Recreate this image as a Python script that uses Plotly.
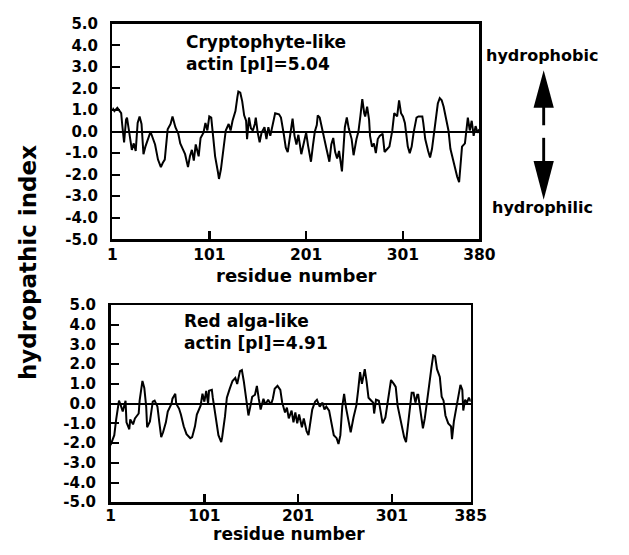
import plotly.graph_objects as go

# ---------------- data ----------------
crypto_res = [1, 3, 6, 10, 11, 13, 15, 16, 18, 21, 23, 25, 27, 29, 31, 33, 35, 37, 40, 41, 45, 48, 51, 53, 55,
              58, 61, 63, 66, 69, 71, 74, 76, 79, 81, 83, 85, 87, 90, 92, 95, 97, 99, 101, 103, 105, 107, 110,
              111, 113, 115, 118, 121, 123, 125, 128, 130, 131, 133, 135, 137, 139, 140, 142, 144, 146, 148,
              149, 151, 153, 155, 158, 160, 162, 164, 167, 169, 173, 175, 178, 180, 182, 184, 187, 189, 191,
              193, 196, 199, 201, 203, 206, 208, 210, 212, 213, 215, 217, 219, 222, 225, 227, 229, 231, 233,
              235, 238, 239, 241, 243, 245, 248, 250, 253, 255, 257, 259, 261, 262, 264, 266, 267, 269, 271,
              273, 275, 277, 280, 282, 285, 287, 290, 292, 295, 297, 299, 301, 303, 306, 308, 310, 312, 315,
              317, 321, 322, 324, 327, 329, 331, 334, 337, 339, 341, 343, 346, 348, 350, 352, 355, 357, 359,
              361, 362, 365, 367, 368, 370, 372, 374, 376, 378, 380]
crypto_val = [1.1, 0.95, 1.1, 0.85, 0.35, -0.5, 0.55, 0.65, 0.05, -0.85, -0.55, -0.9, 0.4, 0.7, 0.35, -1.05,
              -0.7, -0.4, -0.05, -0.1, -0.6, -1.3, -1.65, -1.45, -1.3, 0.1, 0.35, 0.7, 0.2, -0.1, -0.55, -0.85,
              -1.05, -1.65, -1.15, -0.85, -1.35, -0.6, -1.15, -0.3, -0.05, 0.4, 0.05, 0.7, 0.65, -0.25, -1.15,
              -1.9, -2.2, -1.75, -1.0, 0.05, 0.35, 0.05, 0.5, 0.95, 1.6, 1.85, 1.8, 1.4, 0.75, 0.5, -0.35, 0.65,
              0.15, 0.05, 0.35, 0.65, -0.05, -0.5, -0.05, 0.2, -0.35, 0.2, -0.2, 0.5, 0.85, 0.8, 0.65, -0.15,
              -0.75, -0.95, -0.35, 0.6, -0.2, -0.6, -0.15, -1.05, -0.45, -0.05, -0.65, -1.4, -0.65, 0.0, 0.3,
              0.75, 0.65, 0.2, -0.2, -0.8, -1.4, -0.6, -0.3, -0.95, -1.25, -0.9, -1.85, -0.95, 0.2, 0.65, 0.15,
              -0.35, -1.1, -0.35, 0.0, 0.7, 1.5, 0.85, 0.7, 1.15, 0.55, -0.2, -0.7, -0.55, -1.0, -0.35, -0.2,
              -0.1, -0.95, -0.8, -0.7, 0.05, 0.85, 0.7, 1.45, 0.85, 0.7, 0.4, -0.7, -1.0, -0.7, -0.05, 0.65,
              0.7, 0.7, 0.4, -0.35, -0.9, -1.2, -0.8, 0.4, 1.3, 1.55, 1.45, 1.15, 0.55, 0.05, -0.8, -1.2,
              -1.65, -2.1, -2.35, -1.05, -0.7, -0.55, 0.25, 0.65, 0.05, 0.5, -0.2, 0.25, -0.05, 0.1]

red_res = [1, 5, 7, 10, 12, 14, 17, 18, 21, 22, 25, 27, 31, 32, 35, 37, 39, 40, 43, 46, 48, 51, 53, 55, 57,
           60, 62, 66, 67, 70, 71, 74, 76, 79, 82, 86, 88, 91, 93, 97, 99, 101, 103, 105, 106, 109, 110, 114,
           116, 119, 120, 123, 125, 128, 131, 134, 136, 139, 141, 143, 146, 148, 150, 152, 155, 157, 159,
           161, 164, 166, 169, 172, 174, 176, 179, 182, 184, 187, 189, 191, 194, 196, 198, 200, 202, 205,
           207, 210, 212, 214, 216, 219, 221, 224, 227, 229, 231, 234, 237, 239, 242, 244, 246, 248, 250,
           252, 255, 257, 260, 263, 265, 267, 269, 272, 274, 276, 279, 281, 282, 284, 287, 289, 291, 294,
           296, 298, 300, 303, 305, 307, 310, 312, 314, 316, 317, 319, 322, 324, 326, 328, 329, 331, 334,
           336, 338, 340, 343, 345, 347, 349, 352, 354, 356, 358, 361, 364, 365, 367, 370, 372, 374, 376,
           377, 379, 381, 383, 385]
red_val = [-2.1, -1.6, -0.8, 0.15, -0.1, -0.4, 0.15, -0.95, -1.3, -0.8, -1.05, -0.75, -0.5, 0.15, 1.15, 0.8,
           -0.15, -1.2, -0.9, 0.1, 0.15, -0.15, -0.95, -1.7, -1.45, -0.95, -0.4, 0.0, 0.25, 0.5, 0.0, -0.25,
           -0.55, -1.15, -1.55, -1.75, -1.7, -1.15, -0.55, -0.1, 0.5, 0.1, 0.65, 0.0, 0.65, 0.7, 0.3, -0.95,
           -1.6, -1.95, -1.7, -0.65, 0.3, 0.75, 1.15, 1.3, 1.0, 1.65, 1.7, 1.15, 0.2, -0.6, -0.15, 0.35,
           0.45, 0.9, 0.25, -0.3, 0.25, -0.05, 0.2, -0.05, 0.25, 0.75, 0.9, 0.7, 0.05, -0.45, -0.2, -0.75,
           -0.35, -0.95, -0.45, -1.0, -0.55, -1.2, -0.75, -1.4, -1.6, -0.85, -0.3, 0.1, 0.2, -0.15, 0.05,
           -0.3, -0.15, -0.35, -1.0, -1.6, -1.75, -2.05, -1.6, -0.15, 0.5, -0.2, -0.95, -1.45, -0.7, -0.1,
           0.7, 1.6, 1.0, 1.75, 1.1, 0.3, 0.15, 0.05, -0.5, 0.2, 0.15, -0.5, -1.0, -0.7, -0.1, 0.7, 1.2,
           1.0, 0.85, -0.1, -0.75, -1.1, -1.7, -1.95, -1.55, -0.75, 0.55, 0.55, 0.05, 0.45, 0.45, -0.25,
           -1.25, -0.75, -0.1, 0.7, 1.8, 2.45, 2.4, 1.75, 1.35, 0.35, 0.15, -0.6, -1.0, -1.15, -1.8, -0.9,
           -0.1, 0.55, 0.95, 0.7, -0.35, 0.2, 0.05, 0.3, 0.1]

y_ticks = [5, 4, 3, 2, 1, 0, -1, -2, -3, -4, -5]
y_ticktext = ["5.0", "4.0", "3.0", "2.0", "1.0", "0.0", "-1.0", "-2.0", "-3.0", "-4.0", "-5.0"]
top_xticks = [1, 101, 201, 301, 380]
bot_xticks = [1, 101, 201, 301, 385]

# ---------------- layout helpers ----------------
# the page keeps an 8px body margin, so the figure is sized to fit inside the window
OFF = 8
W, H = 629 - 2 * OFF, 555 - 2 * OFF
def px(x):
    return (x - OFF) / W
def py(y):
    return 1 - (y - OFF) / H

FONT = "DejaVu Sans"
def f(size):
    return dict(family=FONT, size=size, color="black", weight="bold")

fig = go.Figure()
fig.add_trace(go.Scatter(x=crypto_res, y=crypto_val, mode="lines",
                         line=dict(color="black", width=2), xaxis="x", yaxis="y",
                         showlegend=False, hoverinfo="skip"))
fig.add_trace(go.Scatter(x=red_res, y=red_val, mode="lines",
                         line=dict(color="black", width=2), xaxis="x2", yaxis="y2",
                         showlegend=False, hoverinfo="skip"))

def xax(domain, rng, ticks, standoff):
    return dict(domain=domain, range=rng, tickvals=ticks, ticktext=[str(t) for t in ticks],
                ticks="inside", ticklen=8, tickwidth=2.5, tickcolor="black",
                showline=True, linewidth=2.5, linecolor="black", mirror=True,
                showgrid=False, zeroline=False, tickfont=f(15.5), fixedrange=True,
                ticklabelstandoff=standoff)

def yax(domain, anchor):
    return dict(domain=domain, range=[-5, 5], tickvals=y_ticks, ticktext=y_ticktext,
                ticks="inside", ticklen=8, tickwidth=2, tickcolor="black",
                showline=True, linewidth=2.5, linecolor="black", mirror=True,
                showgrid=False, zeroline=True, zerolinecolor="black", zerolinewidth=2,
                tickfont=f(15), anchor=anchor, ticklabelstandoff=9, fixedrange=True)

fig.update_layout(
    width=W, height=H, autosize=False,
    margin=dict(l=0, r=0, t=0, b=0),
    paper_bgcolor="white", plot_bgcolor="white",
    xaxis=dict(**xax([px(111), px(491)], [1, 380], top_xticks, 0), anchor="y"),
    yaxis=yax([py(238), py(15)], "x"),
    xaxis2=dict(**xax([px(109), px(482)], [1, 385], bot_xticks, -2), anchor="y2"),
    yaxis2=yax([py(510), py(306)], "x2"),
)

ann = []
def text(t, x, y, size, xanchor="left", angle=0):
    ann.append(dict(text=t, x=px(x), y=py(y), xref="paper", yref="paper",
                    xanchor=xanchor, yanchor="middle", showarrow=False,
                    font=f(size), textangle=angle))

text("Cryptophyte-like", 185, 34, 17)
text("actin [pI]=5.04", 185, 57, 17)
text("Red alga-like", 183, 323, 17)
text("actin [pI]=4.91", 183, 345, 17)
text("residue number", 302, 275, 18, "center")
text("residue number", 294, 543, 17, "center")
text("hydropathic index", 23, 262, 23, "center", -90)
text("hydrophobic", 556, 48, 16, "center")
text("hydrophilic", 556, 205, 16, "center")
fig.update_layout(annotations=ann)

# arrows (decoration)
def poly(pts):
    return "M " + " L ".join(f"{px(a)} {py(b)}" for a, b in pts) + " Z"

shapes = [
    dict(type="path", path=poly([(547, 102), (568, 102), (557.5, 63)]), xref="paper", yref="paper",
         fillcolor="black", line=dict(width=0)),
    dict(type="rect", x0=px(556), x1=px(559), y0=py(120), y1=py(100), xref="paper", yref="paper",
         fillcolor="black", line=dict(width=0)),
    dict(type="rect", x0=px(556), x1=px(559), y0=py(159), y1=py(133), xref="paper", yref="paper",
         fillcolor="black", line=dict(width=0)),
    dict(type="path", path=poly([(547, 157), (568, 157), (557.5, 197)]), xref="paper", yref="paper",
         fillcolor="black", line=dict(width=0)),
]
fig.update_layout(shapes=shapes)

fig.write_html("out.html", config={"displayModeBar": False, "staticPlot": True})
